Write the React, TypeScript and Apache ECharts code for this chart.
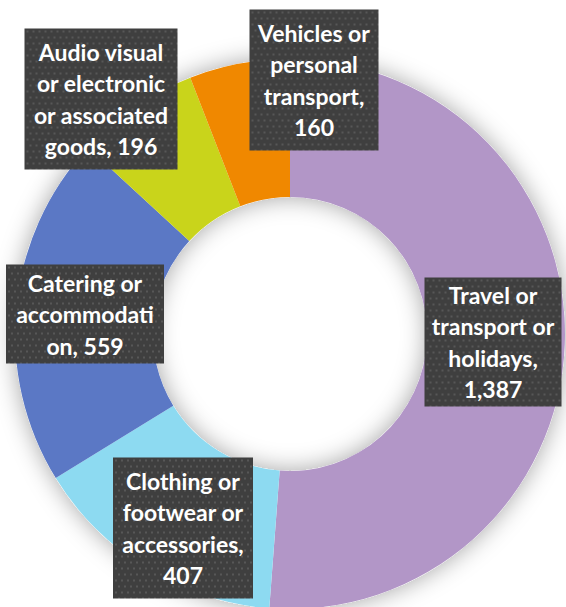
import React, { useEffect, useRef } from "react";
import * as echarts from "echarts";

const categories = [
  "Travel or transport or holidays",
  "Clothing or footwear or accessories",
  "Catering or accommodation",
  "Audio visual or electronic or associated goods",
  "Vehicles or personal transport",
];
const values = [1387, 407, 559, 196, 160];
const colors = ["#B296C7", "#8DDAF1", "#5B78C5", "#C9D41B", "#F08800"];
const labelTemplates = [
  "Travel or\ntransport or\nholidays,\n{v}",
  "Clothing or\nfootwear or\naccessories,\n{v}",
  "Catering or\naccommodati\non, {v}",
  "Audio visual\nor electronic\nor associated\ngoods, {v}",
  "Vehicles or\npersonal\ntransport,\n{v}",
];
const labelCenters = [
  [493, 342],
  [183, 528],
  [85, 314],
  [101, 99],
  [314, 80],
];
const labelBoxes = [
  [137, 129],
  [140, 141],
  [158, 99],
  [153, 141],
  [129, 141],
];

function makePattern(w: number, h: number): string {
  const c = document.createElement("canvas");
  c.width = w;
  c.height = h;
  const ctx = c.getContext("2d");
  if (!ctx) return "";
  ctx.fillStyle = "#3f3f3f";
  ctx.fillRect(0, 0, w, h);
  ctx.fillStyle = "#575757";
  let row = 0;
  for (let y = 2; y < h; y += 6) {
    for (let x = 2 + (row % 2) * 3; x < w; x += 6) {
      ctx.fillRect(x, y, 2, 2);
    }
    row++;
  }
  return c.toDataURL();
}

export default function App() {
  const ref = useRef<HTMLDivElement>(null);
  useEffect(() => {
    if (!ref.current) return;
    const chart = echarts.init(ref.current, undefined, { renderer: "svg" });
    const lineHeight = 31.5;
    const data = categories.map((name, i) => {
      const [bw, bh] = labelBoxes[i];
      const lines = labelTemplates[i].split("\n").length;
      const padY = Math.max(0, (bh - lines * lineHeight) / 2);
      return {
        name,
        value: values[i],
        itemStyle: { color: colors[i] },
        label: {
          width: bw - 8,
          padding: [padY, 4, padY, 4],
          backgroundColor: { image: makePattern(bw, bh) },
        },
      };
    });
    chart.setOption({
      animation: false,
      backgroundColor: "#ffffff",
      series: [
        {
          type: "pie",
          silent: true,
          center: [290, 334],
          radius: [137, 275],
          startAngle: 90,
          label: { show: false },
          labelLine: { show: false },
          itemStyle: {
            color: "#ffffff",
            shadowBlur: 24,
            shadowColor: "rgba(0,0,0,0.36)",
          },
          data: [{ value: 1, name: "" }],
        },
        {
          type: "pie",
          center: [290, 334],
          radius: [137, 275],
          startAngle: 90,
          clockwise: true,
          avoidLabelOverlap: false,
          itemStyle: { borderWidth: 0 },
          emphasis: { disabled: true },
          labelLine: { show: false },
          label: {
            show: true,
            position: "inside",
            color: "#ffffff",
            fontFamily: "Lato",
            fontWeight: "bold",
            fontSize: 23,
            lineHeight: lineHeight,
            align: "center",
            shadowBlur: 6,
            shadowOffsetX: 3,
            shadowOffsetY: 4,
            shadowColor: "rgba(0,0,0,0.45)",
            formatter: (p: any) =>
              labelTemplates[p.dataIndex].replace(
                "{v}",
                Number(p.value).toLocaleString("en-US")
              ),
          },
          labelLayout: (p: any) => ({
            x: labelCenters[p.dataIndex][0],
            y: labelCenters[p.dataIndex][1],
            align: "center",
            verticalAlign: "middle",
          }),
          data,
        },
      ],
    });
    return () => chart.dispose();
  }, []);
  return (
    <div
      ref={ref}
      style={{ position: "absolute", left: 0, top: 0, width: 566, height: 607 }}
    />
  );
}
